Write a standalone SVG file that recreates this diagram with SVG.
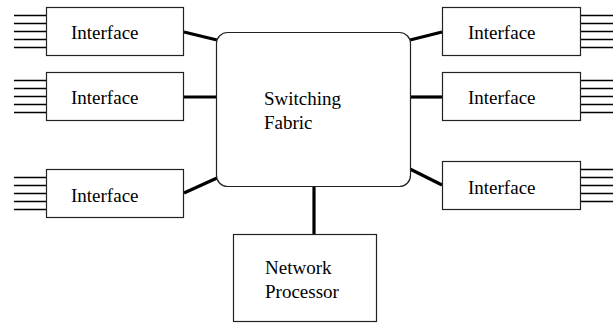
<svg xmlns="http://www.w3.org/2000/svg" width="615" height="324" viewBox="0 0 615 324">
<style>
.box{fill:#fff;stroke:#222;stroke-width:1.2}
.pin{stroke:#000;stroke-width:1.6;fill:none}
.conn{stroke:#000;stroke-width:3.2;fill:none}
</style>
<rect width="615" height="324" fill="#fff"/>
<g id="connectors">
<line class="conn" x1="184" y1="32" x2="217" y2="40"/>
<line class="conn" x1="184" y1="97" x2="217" y2="97"/>
<line class="conn" x1="184" y1="193" x2="217" y2="178"/>
<line class="conn" x1="410" y1="40" x2="442" y2="32"/>
<line class="conn" x1="410" y1="97" x2="442" y2="97"/>
<line class="conn" x1="410" y1="169" x2="442" y2="185"/>
<line class="conn" x1="314" y1="186" x2="314" y2="234"/>
</g>
<g font-family="Liberation Serif, Times New Roman, serif" font-size="19" fill="#000">
<g id="fabric">
<rect class="box" x="216.5" y="32.5" width="194" height="154" rx="11"/>
<text x="264" y="105">Switching</text>
<text x="264" y="129">Fabric</text>
</g>
<g id="np">
<rect class="box" x="233.5" y="234.5" width="143" height="87"/>
<text x="265" y="274">Network</text>
<text x="265" y="298">Processor</text>
</g>
<g id="if1">
<path class="pin" d="M14 15.5H46M14 23.5H46M14 31.5H46M14 39.5H46M14 47.5H46"/>
<rect class="box" x="46.5" y="7.5" width="137" height="48"/>
<text x="71" y="39">Interface</text>
</g>
<g id="if2">
<path class="pin" d="M14 80.5H46M14 88.5H46M14 96.5H46M14 104.5H46M14 112.5H46"/>
<rect class="box" x="46.5" y="72.5" width="137" height="48"/>
<text x="71" y="104">Interface</text>
</g>
<g id="if3">
<path class="pin" d="M14 177.5H46M14 185.5H46M14 193.5H46M14 201.5H46M14 209.5H46"/>
<rect class="box" x="46.5" y="169.5" width="137" height="48"/>
<text x="71" y="202">Interface</text>
</g>
<g id="if4">
<path class="pin" d="M581 15.5H613M581 23.5H613M581 31.5H613M581 39.5H613M581 47.5H613"/>
<rect class="box" x="442.5" y="7.5" width="138" height="48"/>
<text x="468" y="39">Interface</text>
</g>
<g id="if5">
<path class="pin" d="M581 80.5H613M581 88.5H613M581 96.5H613M581 104.5H613M581 112.5H613"/>
<rect class="box" x="442.5" y="72.5" width="138" height="48"/>
<text x="468" y="104">Interface</text>
</g>
<g id="if6">
<path class="pin" d="M581 169.5H613M581 177.5H613M581 185.5H613M581 193.5H613M581 201.5H613"/>
<rect class="box" x="442.5" y="161.5" width="138" height="48"/>
<text x="468" y="194">Interface</text>
</g>
</g>
</svg>
